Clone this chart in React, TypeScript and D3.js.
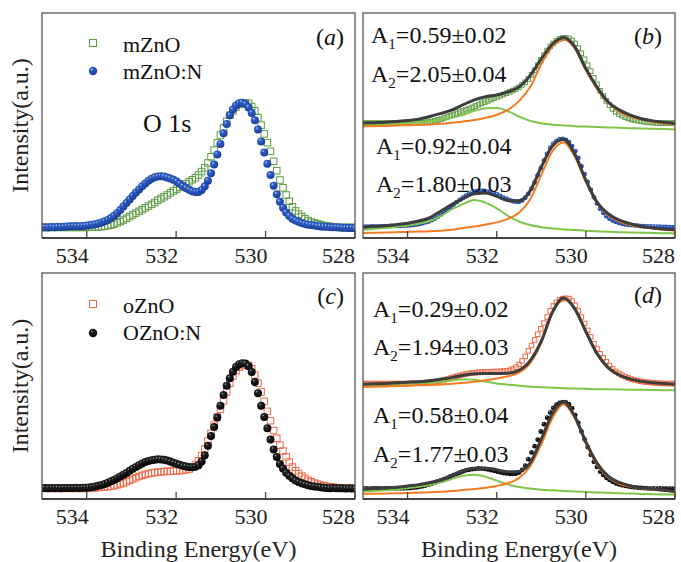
import React from "react";
import * as d3 from "d3";

// ---------- data ----------
// binding energy of each measured point (eV), 0.07 eV step from 535 down to 528
const ENERGY = d3.range(101).map((i) => +(535 - i * 0.07).toFixed(2));
const FIT_ENERGY = d3.range(29).map((i) => 535 - i * 0.25);
const X_TICKS = [534, 532, 530, 528];

const M_ZNO = [
  0, 0, 0, 0, 0, 0, 0, 0, 0, 0,
  0, 0, 0, 0, 0, 0.001, 0.002, 0.003, 0.004, 0.006,
  0.01, 0.013, 0.019, 0.026, 0.037, 0.047, 0.059, 0.073, 0.087, 0.101,
  0.115, 0.129, 0.143, 0.157, 0.171, 0.185, 0.2, 0.217, 0.232, 0.246,
  0.26, 0.277, 0.293, 0.307, 0.321, 0.335, 0.35, 0.367, 0.382, 0.398,
  0.42, 0.448, 0.478, 0.517, 0.566, 0.62, 0.678, 0.741, 0.798, 0.852,
  0.9, 0.935, 0.965, 0.987, 0.998, 1.0, 0.995, 0.97, 0.935, 0.88,
  0.82, 0.75, 0.68, 0.61, 0.53, 0.455, 0.38, 0.318, 0.26, 0.21,
  0.165, 0.132, 0.106, 0.087, 0.07, 0.055, 0.043, 0.036, 0.029, 0.022,
  0.015, 0.011, 0.008, 0.005, 0.002, 0, 0, 0, 0, 0,
  0,
];
const M_ZNO_N = [
  0, 0.002, 0, 0.003, 0.002, 0.005, 0.004, 0.006, 0.008, 0.01,
  0.009, 0.011, 0.01, 0.012, 0.014, 0.017, 0.021, 0.025, 0.031, 0.039,
  0.05, 0.06, 0.075, 0.093, 0.114, 0.14, 0.168, 0.196, 0.224, 0.252,
  0.28, 0.305, 0.33, 0.353, 0.374, 0.39, 0.402, 0.409, 0.411, 0.408,
  0.4, 0.393, 0.382, 0.368, 0.35, 0.332, 0.316, 0.302, 0.291, 0.285,
  0.285, 0.3, 0.33, 0.375, 0.435, 0.505, 0.585, 0.67, 0.755, 0.83,
  0.9, 0.945, 0.978, 0.996, 1.0, 0.99, 0.962, 0.918, 0.86, 0.785,
  0.69, 0.6, 0.51, 0.42, 0.335, 0.265, 0.205, 0.158, 0.12, 0.092,
  0.07, 0.056, 0.045, 0.035, 0.028, 0.022, 0.019, 0.015, 0.012, 0.008,
  0.006, 0.005, 0.003, 0.001, 0.002, 0, -0.002, -0.003, -0.005, -0.004,
  -0.005,
];
const O_ZNO = [
  0, 0, 0, 0, 0, 0, 0, 0, 0, 0,
  0, 0, 0, 0, 0, 0.001, 0.003, 0.005, 0.007, 0.009,
  0.012, 0.014, 0.017, 0.021, 0.028, 0.035, 0.043, 0.053, 0.064, 0.075,
  0.085, 0.095, 0.104, 0.111, 0.118, 0.122, 0.126, 0.13, 0.132, 0.134,
  0.136, 0.137, 0.139, 0.14, 0.142, 0.144, 0.148, 0.154, 0.168, 0.19,
  0.22, 0.262, 0.315, 0.378, 0.44, 0.505, 0.57, 0.633, 0.7, 0.77,
  0.84, 0.898, 0.94, 0.968, 0.982, 0.986, 0.982, 0.955, 0.905, 0.84,
  0.77, 0.695, 0.615, 0.54, 0.462, 0.4, 0.345, 0.298, 0.252, 0.21,
  0.17, 0.141, 0.118, 0.098, 0.08, 0.065, 0.052, 0.042, 0.034, 0.027,
  0.02, 0.016, 0.013, 0.01, 0.006, 0.004, 0.002, 0, 0, 0,
  0,
];
const O_ZNO_N = [
  0, 0.002, 0, 0.003, 0.001, 0.002, 0, 0.003, 0.002, 0.003,
  0.002, 0.004, 0.003, 0.004, 0.005, 0.007, 0.011, 0.014, 0.02, 0.027,
  0.035, 0.045, 0.056, 0.067, 0.081, 0.095, 0.109, 0.123, 0.14, 0.156,
  0.17, 0.184, 0.198, 0.211, 0.218, 0.224, 0.229, 0.232, 0.231, 0.228,
  0.222, 0.214, 0.205, 0.197, 0.188, 0.18, 0.175, 0.171, 0.169, 0.172,
  0.185, 0.215, 0.265, 0.34, 0.418, 0.49, 0.565, 0.66, 0.745, 0.82,
  0.88, 0.932, 0.97, 0.992, 1.0, 0.997, 0.975, 0.93, 0.85, 0.76,
  0.66, 0.57, 0.48, 0.39, 0.31, 0.25, 0.195, 0.158, 0.125, 0.1,
  0.08, 0.062, 0.05, 0.04, 0.032, 0.025, 0.019, 0.015, 0.012, 0.008,
  0.005, 0.003, 0, 0.002, 0, 0.001, 0, -0.002, 0, -0.001,
  -0.002,
];

// fits, panel (b)
const B_UP_TOTAL = [1.19, 1.195, 1.2, 1.208, 1.22, 1.235, 1.265, 1.3, 1.34, 1.4, 1.455, 1.49, 1.51, 1.545, 1.6, 1.73, 1.92, 2.09, 2.165, 2.06, 1.81, 1.6, 1.43, 1.34, 1.28, 1.24, 1.215, 1.2, 1.185];
const B_UP_MAIN = [1.151, 1.155, 1.158, 1.162, 1.166, 1.17, 1.175, 1.183, 1.195, 1.208, 1.225, 1.25, 1.285, 1.34, 1.44, 1.6, 1.86, 2.06, 2.14, 2.04, 1.79, 1.58, 1.42, 1.32, 1.265, 1.23, 1.205, 1.185, 1.17];
const B_UP_HIGH = [1.17, 1.173, 1.178, 1.185, 1.195, 1.203, 1.212, 1.23, 1.252, 1.285, 1.33, 1.36, 1.362, 1.325, 1.265, 1.215, 1.188, 1.172, 1.163, 1.155, 1.15, 1.145, 1.14, 1.136, 1.132, 1.128, 1.125, 1.122, 1.12];
const B_LO_TOTAL = [0.008, 0.015, 0.022, 0.034, 0.05, 0.075, 0.115, 0.19, 0.265, 0.33, 0.385, 0.393, 0.355, 0.31, 0.305, 0.42, 0.69, 0.93, 1.005, 0.84, 0.54, 0.29, 0.158, 0.085, 0.045, 0.012, -0.003, -0.015, -0.023];
const B_LO_MAIN = [-0.06, -0.058, -0.055, -0.052, -0.049, -0.045, -0.042, -0.035, -0.025, -0.004, 0.012, 0.035, 0.06, 0.1, 0.17, 0.32, 0.6, 0.87, 0.97, 0.81, 0.52, 0.28, 0.14, 0.07, 0.03, 0.005, -0.01, -0.025, -0.034];
const B_LO_HIGH = [-0.023, -0.015, -0.005, 0.01, 0.025, 0.045, 0.075, 0.135, 0.21, 0.27, 0.315, 0.285, 0.22, 0.135, 0.07, 0.03, 0.005, -0.01, -0.02, -0.028, -0.035, -0.042, -0.048, -0.052, -0.055, -0.058, -0.06, -0.063, -0.065];

// fits, panel (d)
const D_UP_TOTAL = [1.182, 1.187, 1.192, 1.198, 1.205, 1.212, 1.222, 1.238, 1.26, 1.285, 1.3, 1.304, 1.303, 1.308, 1.34, 1.45, 1.67, 2.0, 2.16, 2.04, 1.78, 1.53, 1.37, 1.285, 1.24, 1.215, 1.2, 1.19, 1.182];
const D_UP_MAIN = [1.151, 1.154, 1.158, 1.162, 1.166, 1.17, 1.174, 1.18, 1.188, 1.198, 1.21, 1.228, 1.248, 1.272, 1.315, 1.42, 1.65, 1.99, 2.145, 2.03, 1.77, 1.52, 1.36, 1.277, 1.233, 1.208, 1.193, 1.183, 1.176];
const D_UP_HIGH = [1.17, 1.175, 1.18, 1.185, 1.19, 1.196, 1.2, 1.21, 1.225, 1.239, 1.232, 1.212, 1.192, 1.178, 1.165, 1.155, 1.148, 1.143, 1.138, 1.134, 1.13, 1.127, 1.125, 1.123, 1.121, 1.119, 1.117, 1.115, 1.114];
const D_LO_TOTAL = [-0.004, 0.0, 0.007, 0.015, 0.03, 0.045, 0.07, 0.1, 0.15, 0.2, 0.228, 0.23, 0.215, 0.19, 0.195, 0.29, 0.56, 0.85, 0.98, 0.82, 0.53, 0.29, 0.14, 0.07, 0.03, 0.008, -0.005, -0.02, -0.034];
const D_LO_MAIN = [-0.06, -0.058, -0.056, -0.053, -0.05, -0.047, -0.042, -0.036, -0.028, -0.015, -0.004, 0.01, 0.03, 0.06, 0.118, 0.25, 0.5, 0.8, 0.955, 0.8, 0.51, 0.27, 0.125, 0.055, 0.02, 0.0, -0.012, -0.025, -0.036];
const D_LO_HIGH = [-0.034, -0.028, -0.02, -0.01, 0.005, 0.02, 0.04, 0.07, 0.11, 0.145, 0.158, 0.135, 0.09, 0.048, 0.018, 0.0, -0.012, -0.02, -0.027, -0.033, -0.038, -0.043, -0.048, -0.053, -0.057, -0.06, -0.063, -0.066, -0.068];

const LEGEND_A = ["mZnO", "mZnO:N"];
const LEGEND_C = ["oZnO", "OZnO:N"];
const AREAS_B = [["1", "=0.59±0.02"], ["2", "=2.05±0.04"], ["1", "=0.92±0.04"], ["2", "=1.80±0.03"]];
const AREAS_D = [["1", "=0.29±0.02"], ["2", "=1.94±0.03"], ["1", "=0.58±0.04"], ["2", "=1.77±0.03"]];

// ---------- style ----------
const C_GREEN_SQ = "#5e9b45";
const C_RED_SQ = "#ee6a46";
const C_TOTAL = "#3d3d3d";
const C_MAIN = "#f47b22";
const C_HIGH = "#7ec64a";
const FONT = "'Liberation Serif', 'Times New Roman', serif";

type PanelGeom = { x0: number; x1: number; y0: number; y1: number; yDom: [number, number]; id: string };

const COLS = [[42, 355], [363, 675]];
const ROWS = [[13, 238], [273, 499]];

function mk(col: number, row: number, yDom: [number, number], id: string): PanelGeom {
  return { x0: COLS[col][0], x1: COLS[col][1], y0: ROWS[row][0], y1: ROWS[row][1], yDom, id };
}

const PA = mk(0, 0, [-0.085, 1.72], "pa");
const PB = mk(1, 0, [-0.118, 2.443], "pb");
const PC = mk(0, 1, [-0.085, 1.72], "pc");
const PD = mk(1, 1, [-0.118, 2.443], "pd");

function scales(p: PanelGeom) {
  const x = d3.scaleLinear().domain([535, 528]).range([p.x0, p.x1]);
  const y = d3.scaleLinear().domain(p.yDom).range([p.y1, p.y0]);
  return { x, y };
}

function Squares({ p, data, color, size, off = 0, k = 1 }: any) {
  const { x, y } = scales(p);
  return (
    <g clipPath={`url(#clip-${p.id})`}>
      {data.map((v: number, i: number) => (
        <rect key={i} x={x(ENERGY[i]) - size / 2} y={y(off + k * v) - size / 2} width={size} height={size}
          fill="none" stroke={color} strokeWidth={1} />
      ))}
    </g>
  );
}

function Circles({ p, data, grad, r, off = 0, k = 1 }: any) {
  const { x, y } = scales(p);
  return (
    <g clipPath={`url(#clip-${p.id})`}>
      {data.map((v: number, i: number) => (
        <circle key={i} cx={x(ENERGY[i])} cy={y(off + k * v)} r={r} fill={`url(#${grad})`} />
      ))}
    </g>
  );
}

function FitLine({ p, data, color, width }: any) {
  const { x, y } = scales(p);
  const line = d3.line<number>().x((_, i) => x(FIT_ENERGY[i])).y((v) => y(v)).curve(d3.curveMonotoneX);
  return <path d={line(data) || ""} fill="none" stroke={color} strokeWidth={width} clipPath={`url(#clip-${p.id})`} strokeLinejoin="round" />;
}

function Frame({ p, showTitle }: { p: PanelGeom; showTitle: boolean }) {
  const { x } = scales(p);
  return (
    <g>
      <rect x={p.x0} y={p.y0} width={p.x1 - p.x0} height={p.y1 - p.y0} fill="none" stroke="#555" strokeWidth={1.3} />
      <line x1={p.x0} x2={p.x1} y1={p.y1} y2={p.y1} stroke="#444" strokeWidth={1.8} />
      {X_TICKS.map((t) => (
        <g key={t}>
          <line x1={x(t)} x2={x(t)} y1={p.y1} y2={p.y1 - 7} stroke="#444" strokeWidth={1.3} />
          <text x={Math.min(x(t) + 2, p.x1)} y={p.y1 + 25} textAnchor="end" fontSize={22} fill="#222">{t}</text>
        </g>
      ))}
      {showTitle && (
        <text x={(p.x0 + p.x1) / 2} y={557} textAnchor="middle" fontSize={24} fill="#222">Binding Energy(eV)</text>
      )}
    </g>
  );
}

function AreaText({ x, y, sub, rest }: any) {
  return (
    <text x={x} y={y} fontSize={24} fill="#111">
      A<tspan fontSize={15} dy={6}>{sub}</tspan><tspan dy={-6}>{rest}</tspan>
    </text>
  );
}

function Tag({ x, y, letter }: any) {
  return (
    <text x={x} y={y} fontSize={24} textAnchor="end" fill="#111">
      (<tspan fontStyle="italic">{letter}</tspan>)
    </text>
  );
}

export default function App() {
  const panels = [PA, PB, PC, PD];
  return (
    <svg width={681} height={562} style={{ position: "absolute", left: 0, top: 0, background: "#fff" }} fontFamily={FONT}>
      <defs>
        <radialGradient id="gBlue" cx="0.4" cy="0.38" r="0.65" fx="0.35" fy="0.3">
          <stop offset="0" stopColor="#c9d7f7" />
          <stop offset="0.25" stopColor="#3260c6" />
          <stop offset="1" stopColor="#173b96" />
        </radialGradient>
        <radialGradient id="gBlack" cx="0.4" cy="0.38" r="0.65" fx="0.35" fy="0.3">
          <stop offset="0" stopColor="#c4c4c4" />
          <stop offset="0.2" stopColor="#262626" />
          <stop offset="1" stopColor="#000" />
        </radialGradient>
        {panels.map((p) => (
          <clipPath key={p.id} id={`clip-${p.id}`}>
            <rect x={p.x0} y={p.y0} width={p.x1 - p.x0} height={p.y1 - p.y0} />
          </clipPath>
        ))}
      </defs>
      <rect x={0} y={0} width={681} height={562} fill="#fff" />

      {/* panel a */}
      <Squares p={PA} data={M_ZNO} color={C_GREEN_SQ} size={6.5} />
      <Circles p={PA} data={M_ZNO_N} grad="gBlue" r={4} />
      <Frame p={PA} showTitle={false} />
      <rect x={89.5} y={39.5} width={7} height={7} fill="none" stroke={C_GREEN_SQ} strokeWidth={1} />
      <circle cx={93} cy={71} r={4.2} fill="url(#gBlue)" />
      <text x={123} y={52} fontSize={22} fill="#111">{LEGEND_A[0]}</text>
      <text x={123} y={79} fontSize={22} fill="#111">{LEGEND_A[1]}</text>
      <text x={143} y={132} fontSize={26} fill="#111">O 1s</text>
      <Tag x={344} y={45} letter="a" />

      {/* panel b */}
      <Squares p={PB} data={M_ZNO} color={C_GREEN_SQ} size={4.5} off={1.19} k={0.97} />
      <Circles p={PB} data={M_ZNO_N} grad="gBlue" r={2.4} off={0.01} k={1.0} />
      <FitLine p={PB} data={B_UP_HIGH} color={C_HIGH} width={2} />
      <FitLine p={PB} data={B_UP_MAIN} color={C_MAIN} width={2} />
      <FitLine p={PB} data={B_UP_TOTAL} color={C_TOTAL} width={3} />
      <FitLine p={PB} data={B_LO_HIGH} color={C_HIGH} width={2} />
      <FitLine p={PB} data={B_LO_MAIN} color={C_MAIN} width={2} />
      <FitLine p={PB} data={B_LO_TOTAL} color={C_TOTAL} width={3} />
      <Frame p={PB} showTitle={false} />
      <AreaText x={371} y={43} sub={AREAS_B[0][0]} rest={AREAS_B[0][1]} />
      <AreaText x={371} y={82} sub={AREAS_B[1][0]} rest={AREAS_B[1][1]} />
      <AreaText x={376} y={154} sub={AREAS_B[2][0]} rest={AREAS_B[2][1]} />
      <AreaText x={376} y={192} sub={AREAS_B[3][0]} rest={AREAS_B[3][1]} />
      <Tag x={662} y={44} letter="b" />

      {/* panel c */}
      <Squares p={PC} data={O_ZNO} color={C_RED_SQ} size={6.5} />
      <Circles p={PC} data={O_ZNO_N} grad="gBlack" r={4} />
      <Frame p={PC} showTitle={true} />
      <rect x={89.5} y={300.5} width={7} height={7} fill="none" stroke={C_RED_SQ} strokeWidth={1} />
      <circle cx={93} cy={333} r={4.2} fill="url(#gBlack)" />
      <text x={123} y={313} fontSize={22} fill="#111">{LEGEND_C[0]}</text>
      <text x={123} y={340} fontSize={22} fill="#111">{LEGEND_C[1]}</text>
      <Tag x={344} y={304} letter="c" />

      {/* panel d */}
      <Squares p={PD} data={O_ZNO} color={C_RED_SQ} size={4.5} off={1.19} k={0.98} />
      <Circles p={PD} data={O_ZNO_N} grad="gBlack" r={2.4} off={0} k={0.98} />
      <FitLine p={PD} data={D_UP_HIGH} color={C_HIGH} width={2} />
      <FitLine p={PD} data={D_UP_MAIN} color={C_MAIN} width={2} />
      <FitLine p={PD} data={D_UP_TOTAL} color={C_TOTAL} width={3} />
      <FitLine p={PD} data={D_LO_HIGH} color={C_HIGH} width={2} />
      <FitLine p={PD} data={D_LO_MAIN} color={C_MAIN} width={2} />
      <FitLine p={PD} data={D_LO_TOTAL} color={C_TOTAL} width={3} />
      <Frame p={PD} showTitle={true} />
      <AreaText x={373} y={317} sub={AREAS_D[0][0]} rest={AREAS_D[0][1]} />
      <AreaText x={373} y={355} sub={AREAS_D[1][0]} rest={AREAS_D[1][1]} />
      <AreaText x={373} y={423} sub={AREAS_D[2][0]} rest={AREAS_D[2][1]} />
      <AreaText x={373} y={462} sub={AREAS_D[3][0]} rest={AREAS_D[3][1]} />
      <Tag x={662} y={303} letter="d" />

      {/* y titles */}
      <text transform={`translate(28,${(PA.y0 + PA.y1) / 2}) rotate(-90)`} textAnchor="middle" fontSize={24} fill="#222">Intensity(a.u.)</text>
      <text transform={`translate(28,${(PC.y0 + PC.y1) / 2}) rotate(-90)`} textAnchor="middle" fontSize={24} fill="#222">Intensity(a.u.)</text>
    </svg>
  );
}
